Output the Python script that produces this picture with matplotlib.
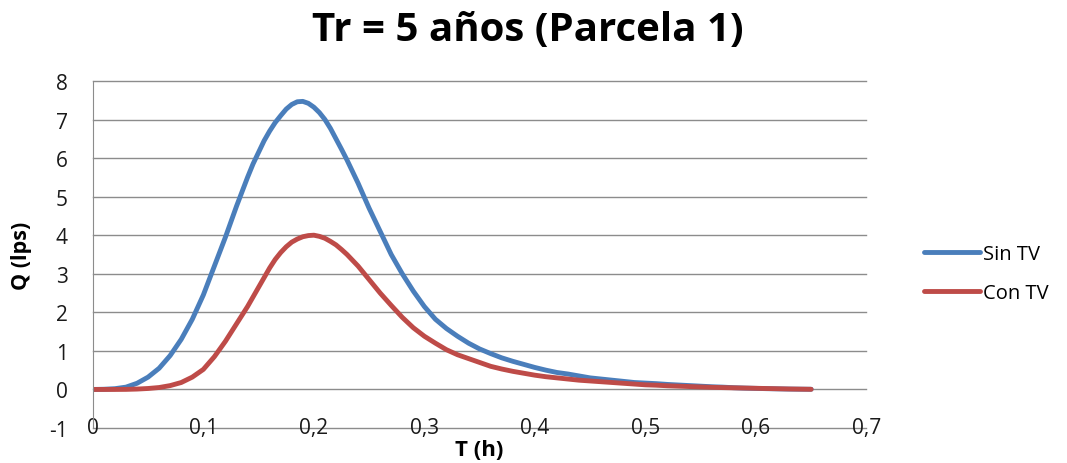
import numpy as np
import matplotlib
matplotlib.use("Agg")
import matplotlib.pyplot as plt

plt.rcParams['font.family'] = ['Open Sans', 'DejaVu Sans']
plt.rcParams['axes.unicode_minus'] = False

# tiempo (h), mas denso alrededor de los picos
t = [0, 0.01, 0.02, 0.03, 0.04, 0.05, 0.06, 0.07, 0.08, 0.09,
     0.10, 0.11, 0.12, 0.13, 0.14, 0.145, 0.15, 0.155, 0.16, 0.165,
     0.17, 0.175, 0.18, 0.185, 0.19, 0.195, 0.20, 0.205, 0.21, 0.215,
     0.22, 0.225, 0.23, 0.24, 0.25, 0.26, 0.27, 0.28, 0.29, 0.30,
     0.31, 0.32, 0.33, 0.34, 0.35, 0.36, 0.37, 0.38, 0.39, 0.40,
     0.41, 0.42, 0.43, 0.44, 0.45, 0.46, 0.47, 0.48, 0.49, 0.50,
     0.51, 0.52, 0.53, 0.54, 0.55, 0.56, 0.57, 0.58, 0.59, 0.60,
     0.61, 0.62, 0.63, 0.64, 0.65]

sin_tv = [0, 0.005, 0.02, 0.06, 0.16, 0.32, 0.55, 0.88, 1.3, 1.82,
          2.45, 3.2, 3.95, 4.75, 5.5, 5.85, 6.15, 6.45, 6.7, 6.92,
          7.1, 7.27, 7.39, 7.46, 7.47, 7.42, 7.32, 7.18, 7.0, 6.77,
          6.5, 6.23, 5.95, 5.35, 4.7, 4.1, 3.5, 3.0, 2.55, 2.15,
          1.82, 1.58, 1.38, 1.2, 1.05, 0.93, 0.82, 0.73, 0.65, 0.57,
          0.5, 0.44, 0.4, 0.35, 0.3, 0.27, 0.24, 0.21, 0.18, 0.165,
          0.15, 0.13, 0.115, 0.1, 0.085, 0.07, 0.06, 0.045, 0.035, 0.028,
          0.02, 0.015, 0.01, 0.007, 0.005]

con_tv = [0, 0, 0, 0.002, 0.01, 0.025, 0.05, 0.1, 0.18, 0.32,
          0.52, 0.85, 1.25, 1.7, 2.15, 2.4, 2.65, 2.9, 3.15, 3.37,
          3.55, 3.7, 3.82, 3.9, 3.96, 3.99, 4.0, 3.97, 3.92, 3.84,
          3.75, 3.63, 3.5, 3.2, 2.85, 2.5, 2.18, 1.87, 1.6, 1.38,
          1.2, 1.03, 0.9, 0.8, 0.7, 0.6, 0.53, 0.47, 0.42, 0.37,
          0.33, 0.3, 0.27, 0.24, 0.22, 0.2, 0.18, 0.16, 0.14, 0.12,
          0.11, 0.095, 0.085, 0.075, 0.065, 0.055, 0.048, 0.042, 0.036, 0.03,
          0.024, 0.018, 0.012, 0.008, 0.004]

x_ticks = [0, 0.1, 0.2, 0.3, 0.4, 0.5, 0.6, 0.7]
x_labels = ['0', '0,1', '0,2', '0,3', '0,4', '0,5', '0,6', '0,7']
y_ticks = list(range(-1, 9))

fig = plt.figure(figsize=(10.67, 4.64), dpi=100)
ax = fig.add_axes([0.087, 0.0754, 0.725, 0.748])

ax.plot(t, sin_tv, color='#4a7ebb', lw=3.5, label='Sin TV',
        solid_capstyle='round', solid_joinstyle='round')
ax.plot(t, con_tv, color='#be4b48', lw=3.5, label='Con TV',
        solid_capstyle='round', solid_joinstyle='round')

ax.set_xlim(0, 0.7)
ax.set_ylim(-1, 8)
ax.set_yticks(y_ticks)
ax.set_xticks(x_ticks)
ax.set_xticklabels(x_labels)

for y in y_ticks:
    ax.axhline(y, color='#8c8c8c', lw=1, zorder=0, clip_on=False)

for s in ['top', 'right', 'bottom']:
    ax.spines[s].set_visible(False)
ax.spines['left'].set_color('#8c8c8c')

ax.tick_params(axis='both', length=0, labelsize=15, colors='#1a1a1a')
ax.tick_params(axis='x', pad=-8)
ax.tick_params(axis='y', pad=18)

ax.set_ylabel('Q (lps)', fontsize=15.5, fontweight='bold')
ax.yaxis.set_label_coords(-0.078, 0.5)
fig.text(479 / 1067, 1 - 451 / 464, 'T (h)', ha='center', va='center',
         fontsize=16, fontweight='bold')

fig.text(0.495, 0.935, 'Tr = 5 años (Parcela 1)', ha='center', va='center',
         fontsize=29, fontweight='bold')

fig.legend(loc='center left', bbox_to_anchor=(0.866, 0.408), frameon=False,
           fontsize=14.5, handlelength=2.8, handletextpad=0.15,
           labelspacing=0.95, borderpad=0, borderaxespad=0)

plt.savefig('out.png', dpi=100)
